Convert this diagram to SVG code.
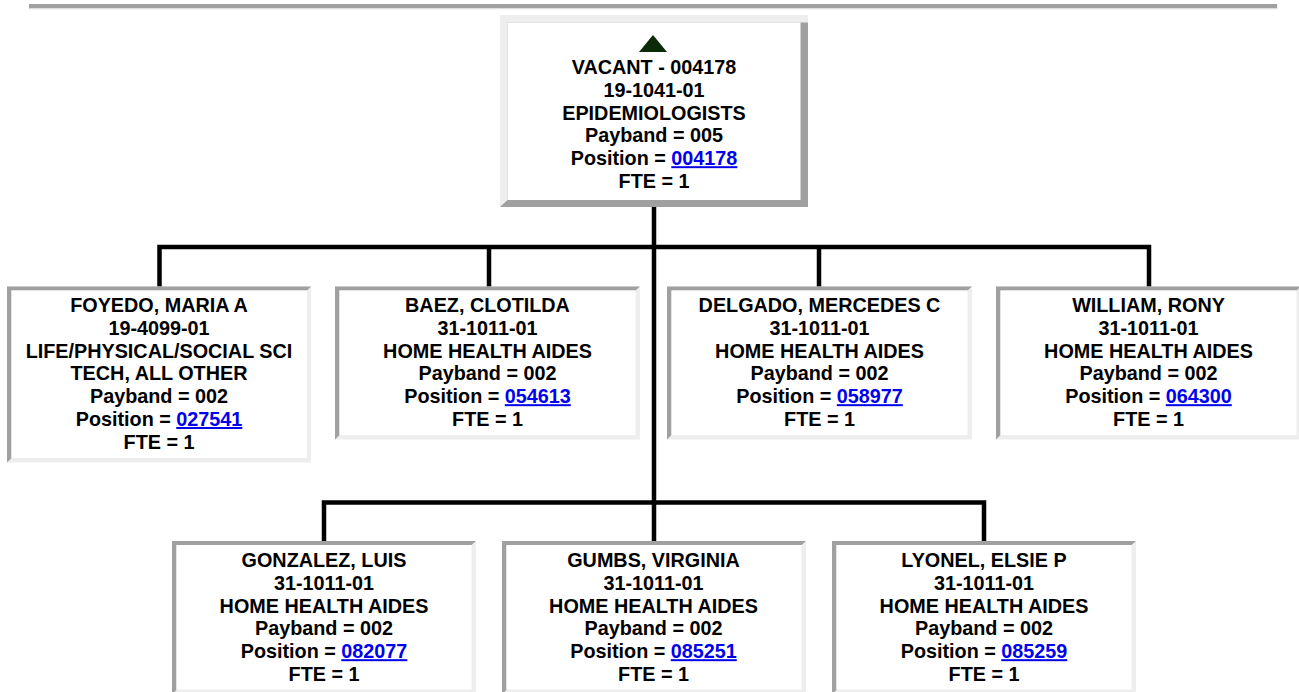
<svg xmlns="http://www.w3.org/2000/svg" width="1299" height="692" viewBox="0 0 1299 692">
<style>
  text { font-family: "Liberation Sans", Arial, sans-serif; font-weight: bold; font-size: 19.8px; fill: #000; text-anchor: middle; }
  .lnk { fill: #0000ee; text-decoration: underline; }
  .dark { fill: #a0a0a0; }
  .light { fill: #eeeeee; }
  .inner { fill: #ffffff; }
  .conn { fill: none; stroke: #000; stroke-width: 4.5; stroke-linejoin: miter; }
</style>
<rect width="1299" height="692" fill="#ffffff"/>
<g id="topbar">
  <rect x="29" y="4" width="1249" height="4.5" class="dark"/>
  <rect x="30" y="8.5" width="1248" height="1" class="light"/>
  <rect x="1277" y="4" width="1" height="5" class="light"/>
</g>
<g id="connectors">
  <path class="conn" d="M654,207 V541"/>
  <path class="conn" d="M159.5,287 V247 H1149 V287"/>
  <path class="conn" d="M489,247 V287"/>
  <path class="conn" d="M819,247 V287"/>
  <path class="conn" d="M324,541 V502.5 H984 V541"/>
</g>
<g id="node-root">
  <rect x="500" y="15" width="308" height="192" class="dark"/>
  <polygon points="500,15 808,15 808,22.5 507.5,22.5 507.5,200 500,207" class="light"/>
  <rect x="507.5" y="22.5" width="293" height="177.5" class="inner"/>
  <polygon points="653,35 667,52 639,52" fill="#0a2a0a"/>
  <text x="654" y="74">VACANT - 004178</text>
  <text x="654" y="96.8">19-1041-01</text>
  <text x="654" y="119.6">EPIDEMIOLOGISTS</text>
  <text x="654" y="142.4">Payband = 005</text>
  <text x="654" y="165.2">Position = <tspan class="lnk">004178</tspan></text>
  <text x="654" y="188">FTE = 1</text>
</g>
<g id="node-foyedo">
  <rect x="7" y="286.5" width="304" height="176" class="light"/>
  <polygon points="7,286.5 311,286.5 307,290.5 11.5,290.5 11.5,458 7,462.5" class="dark"/>
  <rect x="11.5" y="290.5" width="295.5" height="167.5" class="inner"/>
  <text x="159" y="312">FOYEDO, MARIA A</text>
  <text x="159" y="334.8">19-4099-01</text>
  <text x="159" y="357.6">LIFE/PHYSICAL/SOCIAL SCI</text>
  <text x="159" y="380.4">TECH, ALL OTHER</text>
  <text x="159" y="403.2">Payband = 002</text>
  <text x="159" y="426">Position = <tspan class="lnk">027541</tspan></text>
  <text x="159" y="448.8">FTE = 1</text>
</g>
<g id="node-baez">
  <rect x="335" y="286.5" width="305" height="153" class="light"/>
  <polygon points="335,286.5 640,286.5 635.5,290.5 339.5,290.5 339.5,435 335,439.5" class="dark"/>
  <rect x="339.5" y="290.5" width="296" height="144.5" class="inner"/>
  <text x="487.5" y="312">BAEZ, CLOTILDA</text>
  <text x="487.5" y="334.8">31-1011-01</text>
  <text x="487.5" y="357.6">HOME HEALTH AIDES</text>
  <text x="487.5" y="380.4">Payband = 002</text>
  <text x="487.5" y="403.2">Position = <tspan class="lnk">054613</tspan></text>
  <text x="487.5" y="426">FTE = 1</text>
</g>
<g id="node-delgado">
  <rect x="667" y="286.5" width="305" height="153" class="light"/>
  <polygon points="667,286.5 972,286.5 967.5,290.5 671.5,290.5 671.5,435 667,439.5" class="dark"/>
  <rect x="671.5" y="290.5" width="296" height="144.5" class="inner"/>
  <text x="819.5" y="312">DELGADO, MERCEDES C</text>
  <text x="819.5" y="334.8">31-1011-01</text>
  <text x="819.5" y="357.6">HOME HEALTH AIDES</text>
  <text x="819.5" y="380.4">Payband = 002</text>
  <text x="819.5" y="403.2">Position = <tspan class="lnk">058977</tspan></text>
  <text x="819.5" y="426">FTE = 1</text>
</g>
<g id="node-william">
  <rect x="996" y="286.5" width="305" height="153" class="light"/>
  <polygon points="996,286.5 1301,286.5 1296.5,290.5 1000.5,290.5 1000.5,435 996,439.5" class="dark"/>
  <rect x="1000.5" y="290.5" width="296" height="144.5" class="inner"/>
  <text x="1148.5" y="312">WILLIAM, RONY</text>
  <text x="1148.5" y="334.8">31-1011-01</text>
  <text x="1148.5" y="357.6">HOME HEALTH AIDES</text>
  <text x="1148.5" y="380.4">Payband = 002</text>
  <text x="1148.5" y="403.2">Position = <tspan class="lnk">064300</tspan></text>
  <text x="1148.5" y="426">FTE = 1</text>
</g>
<g id="node-gonzalez">
  <rect x="172" y="541" width="304" height="153" class="light"/>
  <polygon points="172,541 476,541 471.5,545 176.5,545 176.5,690 172,694" class="dark"/>
  <rect x="176.5" y="545" width="295" height="144.5" class="inner"/>
  <text x="324" y="567">GONZALEZ, LUIS</text>
  <text x="324" y="589.8">31-1011-01</text>
  <text x="324" y="612.6">HOME HEALTH AIDES</text>
  <text x="324" y="635.4">Payband = 002</text>
  <text x="324" y="658.2">Position = <tspan class="lnk">082077</tspan></text>
  <text x="324" y="681">FTE = 1</text>
</g>
<g id="node-gumbs">
  <rect x="502" y="541" width="304" height="153" class="light"/>
  <polygon points="502,541 806,541 801.5,545 506.5,545 506.5,690 502,694" class="dark"/>
  <rect x="506.5" y="545" width="295" height="144.5" class="inner"/>
  <text x="653.5" y="567">GUMBS, VIRGINIA</text>
  <text x="653.5" y="589.8">31-1011-01</text>
  <text x="653.5" y="612.6">HOME HEALTH AIDES</text>
  <text x="653.5" y="635.4">Payband = 002</text>
  <text x="653.5" y="658.2">Position = <tspan class="lnk">085251</tspan></text>
  <text x="653.5" y="681">FTE = 1</text>
</g>
<g id="node-lyonel">
  <rect x="832" y="541" width="304" height="153" class="light"/>
  <polygon points="832,541 1136,541 1131.5,545 836.5,545 836.5,690 832,694" class="dark"/>
  <rect x="836.5" y="545" width="295" height="144.5" class="inner"/>
  <text x="984" y="567">LYONEL, ELSIE P</text>
  <text x="984" y="589.8">31-1011-01</text>
  <text x="984" y="612.6">HOME HEALTH AIDES</text>
  <text x="984" y="635.4">Payband = 002</text>
  <text x="984" y="658.2">Position = <tspan class="lnk">085259</tspan></text>
  <text x="984" y="681">FTE = 1</text>
</g>
</svg>
